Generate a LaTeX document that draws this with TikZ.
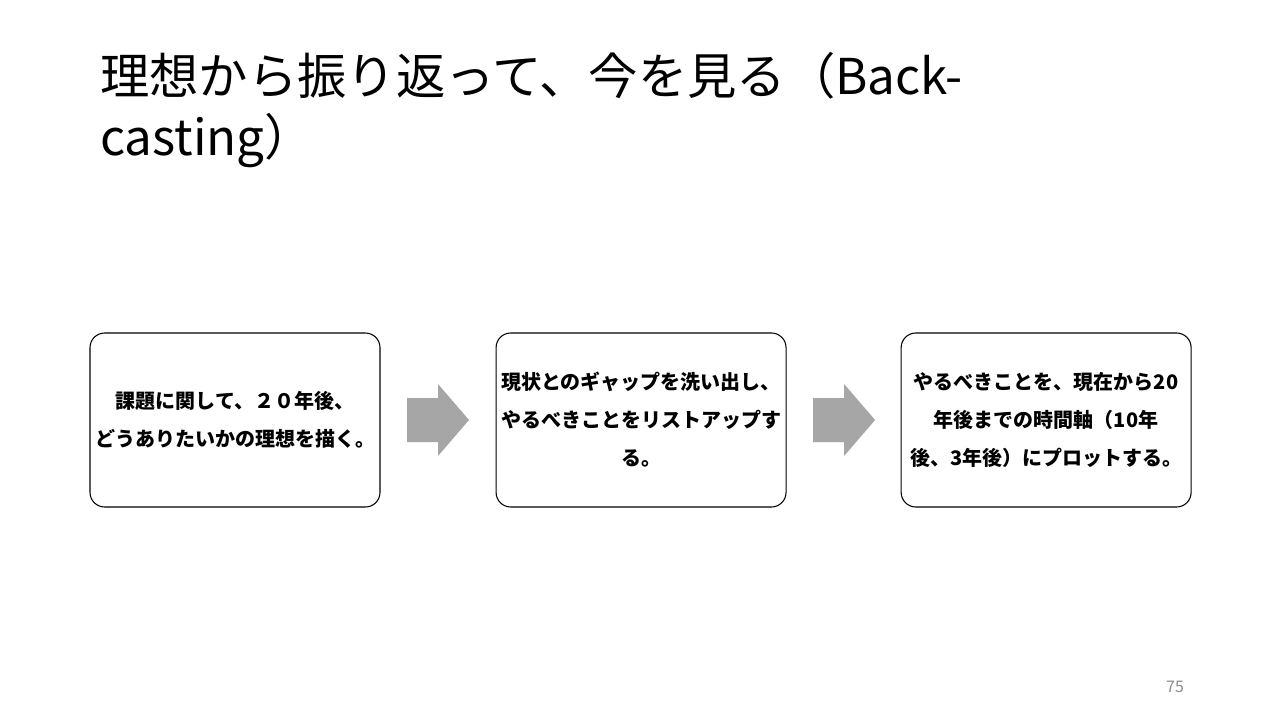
\documentclass[tikz,border=0pt]{standalone}
\usepackage{fontspec}
\setmainfont{Noto Sans CJK JP}
\usepackage{xcolor}
\usetikzlibrary{positioning}
\definecolor{arrowgray}{HTML}{A6A6A6}
\definecolor{pagegray}{HTML}{8C8C8C}

\begin{document}
\begin{tikzpicture}[x=0.75pt, y=-0.75pt,
  stepbox/.style={draw, line width=0.8pt, rounded corners=11pt, text width=212pt,
    inner xsep=2.75pt, inner ysep=0pt, minimum height=130.5pt, align=center,
    font=\bfseries\fontsize{15}{28.5}\selectfont},
  blockarrow/.style={fill=arrowgray}]
  \useasboundingbox[fill=white] (0,0) rectangle (1280,720);
  % title
  \node[anchor=base west, inner sep=0pt, font=\fontsize{37}{45}\selectfont] (title1) at (100,95) {理想から振り返って、今を見る（Back-};
  \node[anchor=base west, inner sep=0pt, font=\fontsize{37}{45}\selectfont] (title2) at (100,156) {casting）};
  % steps
  \node[stepbox] (goal) at (235,420) {課題に関して、２０年後、\\どうありたいかの理想を描く。};
  \node[stepbox, right=86.25pt of goal] (gap) {現状とのギャップを洗い出し、\\やるべきことをリストアップす\\る。};
  \node[stepbox, right=85.5pt of gap] (plot) {やるべきことを、現在から20\\年後までの時間軸（10年\\後、3年後）にプロットする。};
  % arrows
  \coordinate[right=43.1pt of goal] (arrA);
  \coordinate[right=43.1pt of gap] (arrB);
  \fill[blockarrow] (arrA) ++(-31,-22) -- ++(31,0) -- ++(0,-14) -- ++(31,36) -- ++(-31,36) -- ++(0,-14) -- ++(-31,0) -- cycle;
  \fill[blockarrow] (arrB) ++(-31,-22) -- ++(31,0) -- ++(0,-14) -- ++(31,36) -- ++(-31,36) -- ++(0,-14) -- ++(-31,0) -- cycle;
  % page number
  \node[text=pagegray, font=\fontsize{12}{14}\selectfont] (pagenum) at (1175,687) {75};
\end{tikzpicture}
\end{document}
